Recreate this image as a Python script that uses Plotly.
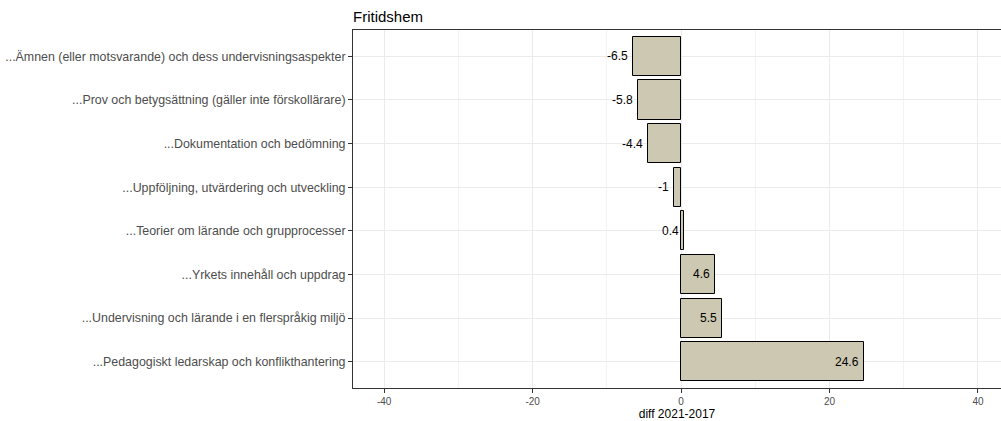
import plotly.graph_objects as go

# Change in share of responses between 2021 and 2017, per topic area (Fritidshem)
categories = [
    "...Pedagogiskt ledarskap och konflikthantering",
    "...Undervisning och lärande i en flerspråkig miljö",
    "...Yrkets innehåll och uppdrag",
    "...Teorier om lärande och grupprocesser",
    "...Uppföljning, utvärdering och utveckling",
    "...Dokumentation och bedömning",
    "...Prov och betygsättning (gäller inte förskollärare)",
    "...Ämnen (eller motsvarande) och dess undervisningsaspekter",
]
diff_values = [24.6, 5.5, 4.6, 0.4, -1, -4.4, -5.8, -6.5]
x_ticks = [-40, -20, 0, 20, 40]

FONT = "Liberation Sans, Arial, sans-serif"

fig = go.Figure()
fig.add_trace(go.Bar(
    x=diff_values,
    y=categories,
    orientation="h",
    width=0.9,
    marker=dict(color="#CDC8B1", line=dict(color="#000000", width=1)),
    hoverinfo="x+y",
))

# value labels placed at the bar end, right-aligned
for cat, val in zip(categories, diff_values):
    fig.add_annotation(
        x=val, y=cat, text=f"{val:g}", showarrow=False,
        xanchor="right", yanchor="middle", xshift=-3,
        font=dict(family=FONT, size=12, color="#000000"),
    )

fig.update_layout(
    width=1001, height=421,
    margin=dict(l=353, r=0, t=30, b=33),
    plot_bgcolor="#FFFFFF", paper_bgcolor="#FFFFFF",
    showlegend=False,
    bargap=0,
    title=dict(
        text="Fritidshem", x=353 / 1001, xanchor="left",
        y=1 - 17 / 421, yanchor="middle",
        font=dict(family=FONT, size=15, color="#000000"),
    ),
    font=dict(family=FONT),
)

fig.update_xaxes(
    range=[-44.2, 43.1],
    tickvals=x_ticks,
    ticktext=[str(v) for v in x_ticks],
    tickfont=dict(family=FONT, size=10, color="#4D4D4D"),
    ticks="outside", ticklen=4, tickcolor="#333333", tickwidth=1,
    showgrid=True, gridcolor="#EBEBEB", gridwidth=1,
    minor=dict(tickvals=[-30, -10, 10, 30], showgrid=True, gridcolor="#F3F3F3", gridwidth=1),
    showline=True, linecolor="#333333", linewidth=1, mirror=True,
    zeroline=False,
    title=dict(text="diff 2021-2017", font=dict(family=FONT, size=12, color="#000000"), standoff=3),
)

fig.update_yaxes(
    type="category",
    categoryorder="array", categoryarray=categories,
    range=[-0.6, 7.6],
    tickfont=dict(family=FONT, size=12.4, color="#4D4D4D"),
    ticks="outside", ticklen=4, tickcolor="#333333", tickwidth=1,
    showgrid=True, gridcolor="#EBEBEB", gridwidth=1,
    showline=True, linecolor="#333333", linewidth=1, mirror=False,
    zeroline=False,
)

fig.write_html("out.html")
